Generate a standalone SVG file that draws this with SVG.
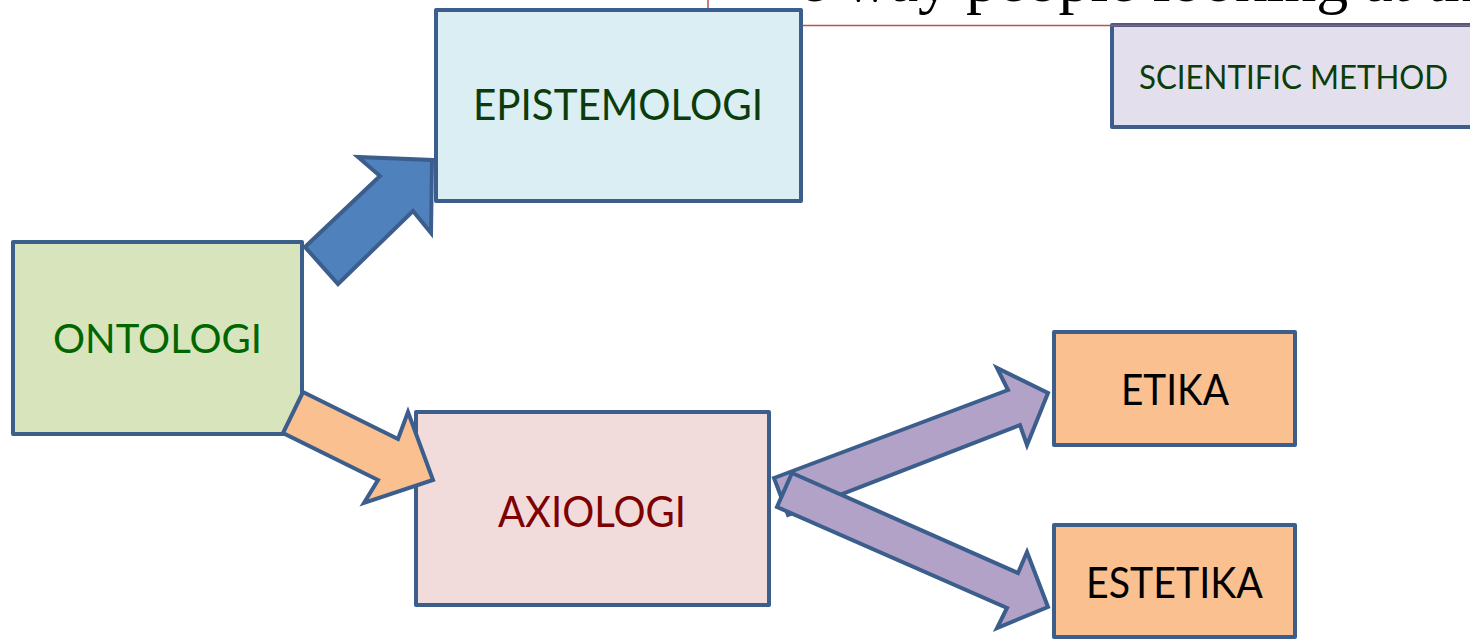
<svg xmlns="http://www.w3.org/2000/svg" width="1470" height="640" viewBox="0 0 1470 640">
<style>
.box{stroke:#3b5e8c;stroke-width:4;stroke-linejoin:round}
.arr{stroke:#3b5e8c;stroke-width:4;stroke-linejoin:miter}
.lbl{font-family:Lato,"Open Sans","Liberation Sans",sans-serif;text-anchor:start}
</style>
<rect width="1470" height="640" fill="#ffffff"/>
<g id="top-text">
<text x="799" y="1" font-family="'Liberation Serif',serif" font-size="64" fill="#000">e way people looking at the</text>
</g>
<g id="scientific-method">
<rect class="box" x="1112" y="25" width="400" height="102" fill="#e4dfec"/>
<text class="lbl" x="1139" y="89" font-size="32" fill="#0b3d0b" textLength="309" lengthAdjust="spacingAndGlyphs">SCIENTIFIC METHOD</text>
</g>
<rect id="red-frame" x="708" y="-100" width="900" height="125.5" fill="none" stroke="#c0504d" stroke-width="1.5"/>
<g id="epistemologi">
<rect class="box" x="436" y="10" width="365" height="191" fill="#dbeef4"/>
<text class="lbl" x="473" y="120" font-size="42" fill="#0b3d0b" textLength="290" lengthAdjust="spacingAndGlyphs">EPISTEMOLOGI</text>
</g>
<g id="ontologi">
<rect class="box" x="13" y="242" width="289" height="192" fill="#d8e4bc"/>
<text class="lbl" x="53" y="353" font-size="41" fill="#006600" textLength="209" lengthAdjust="spacingAndGlyphs">ONTOLOGI</text>
</g>
<g id="axiologi">
<rect class="box" x="416" y="412" width="353" height="193" fill="#f2dcdb"/>
<text class="lbl" x="498" y="527" font-size="42" fill="#7f0000" textLength="188" lengthAdjust="spacingAndGlyphs">AXIOLOGI</text>
</g>
<g id="etika">
<rect class="box" x="1054" y="332" width="241" height="113" fill="#fac090"/>
<text class="lbl" x="1121" y="405" font-size="42" fill="#000" textLength="108" lengthAdjust="spacingAndGlyphs">ETIKA</text>
</g>
<g id="estetika">
<rect class="box" x="1054" y="525" width="241" height="112" fill="#fac090"/>
<text class="lbl" x="1086" y="598" font-size="42" fill="#000" textLength="177" lengthAdjust="spacingAndGlyphs">ESTETIKA</text>
</g>
<g id="connectors">
<polygon class="arr" fill="#4f81bd" points="305,247 380,176 358,157 432,160 431,233 413,211 338,284"/>
<polygon class="arr" fill="#fac090" points="303,392 398,439 408,412 433,480 364,503 378,480 283,433"/>
<polygon class="arr" fill="#b3a2c7" points="774,478 1008,390 997,368 1048,393 1027,445 1020,425 788,515"/>
<polygon class="arr" fill="#b3a2c7" points="792,473 1018,573 1027,552 1048,607 997,628 1007,608 777,507"/>
</g>
</svg>
